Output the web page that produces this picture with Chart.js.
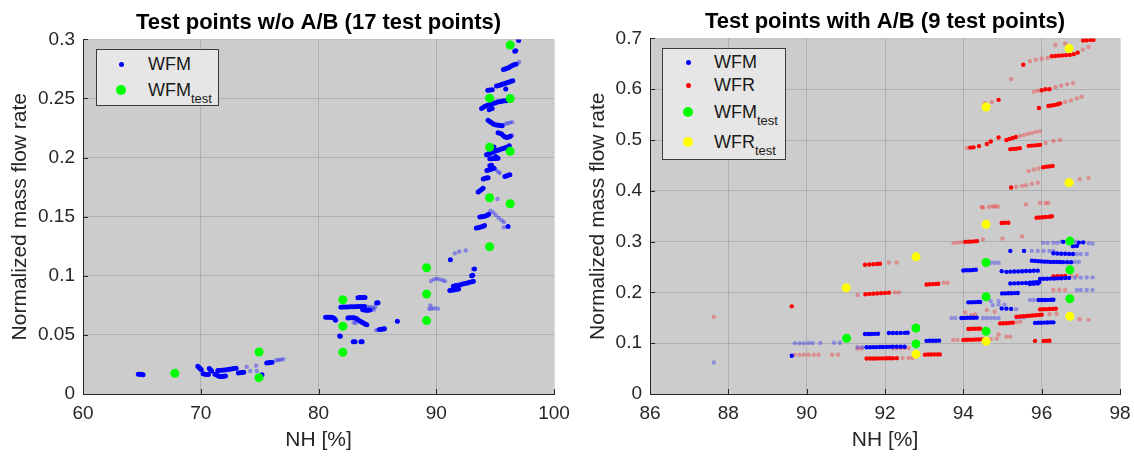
<!DOCTYPE html>
<html>
<head>
<meta charset="utf-8">
<script src="https://cdn.jsdelivr.net/npm/chart.js@4.4.1/dist/chart.umd.min.js"></script>
<style>
    body { margin: 0; background: #fff; font-family: 'Liberation Sans', Arial, sans-serif; }
    #wrap { position: relative; width: 1134px; height: 458px; background: #fff; overflow: hidden; }
    .panel { position: absolute; top: 0; height: 458px; }
    .legend { position: absolute; background: #e6e6e6; border: 1px solid #3a3a3a; box-sizing: border-box; }
    .row { position: absolute; left: 0; height: 24px; line-height: 24px; font-size: 18px; color: #1a1a1a; white-space: nowrap; }
    .row .dot { position: absolute; border-radius: 50%; }
    .row .txt { position: absolute; left: 51px; top: 0; }
    .row sub { font-size: 13px; vertical-align: -7px; line-height: 0; }
</style>
</head>
<body>
<div id="wrap">
    <div class="panel" style="left:0; width:575px">
        <canvas id="chart1" width="575" height="458"></canvas>
        <div class="legend" style="left:96px; top:49px; width:123px; height:57px;">
            <div class="row" style="top:2px"><span class="dot" style="left:22px; top:10px; width:5px; height:5px; background:#0000ff"></span><span class="txt">WFM</span></div>
            <div class="row" style="top:28px"><span class="dot" style="left:19px; top:7px; width:10px; height:10px; background:#00ff00"></span><span class="txt">WFM<sub>test</sub></span></div>
        </div>
    </div>
    <div class="panel" style="left:575px; width:559px">
        <canvas id="chart2" width="559" height="458"></canvas>
        <div class="legend" style="left:87px; top:48px; width:124px; height:112px;">
            <div class="row" style="top:1px"><span class="dot" style="left:23px; top:10px; width:5px; height:5px; background:#0000ff"></span><span class="txt">WFM</span></div>
            <div class="row" style="top:24px"><span class="dot" style="left:23px; top:10px; width:5px; height:5px; background:#ff0000"></span><span class="txt">WFR</span></div>
            <div class="row" style="top:51px"><span class="dot" style="left:20px; top:7px; width:10px; height:10px; background:#00ff00"></span><span class="txt">WFM<sub>test</sub></span></div>
            <div class="row" style="top:81px"><span class="dot" style="left:20px; top:7px; width:10px; height:10px; background:#ffff00"></span><span class="txt">WFR<sub>test</sub></span></div>
        </div>
    </div>
</div>
<script>
// ---- left chart: w/o A/B ----
const leftXTicks = [60, 70, 80, 90, 100];
const leftYTicks = [0, 0.05, 0.1, 0.15, 0.2, 0.25, 0.3];

const wfmTestL = [[67.8,0.0175],[74.95,0.0355],[74.95,0.0138],[82.07,0.0797],[82.07,0.0574],[82.07,0.0353],
    [89.18,0.1068],[89.18,0.0845],[89.18,0.0621],[94.53,0.2503],[94.53,0.2088],[94.53,0.166],[94.53,0.1246],
    [96.28,0.2952],[96.28,0.25],[96.28,0.2053],[96.28,0.161]];

const wfmSolidL = [
    [64.7,0.0168],[64.85,0.0167],[65.0,0.0165],[65.1,0.0163],
    [69.75,0.0235],[69.85,0.0225],[69.95,0.0215],[70.05,0.0205],
    [70.2,0.0172],[70.35,0.0168],[70.5,0.0166],[70.65,0.0164],
    [70.72,0.0215],[70.82,0.0205],[70.92,0.0195],
    [71.2,0.0168],[71.35,0.016],[71.5,0.0152],[71.65,0.0148],[71.8,0.0148],[71.95,0.015],[72.1,0.0152],
    [71.45,0.0198],[71.6,0.0199],[71.8,0.0201],[72.0,0.0203],[72.2,0.0206],[72.4,0.0209],[72.6,0.0212],[72.8,0.0215],[73.0,0.0218],
    [73.2,0.0178],[73.35,0.018],[73.5,0.0182],[73.65,0.0184],
    [75.2,0.0162],
    [75.6,0.0262],[75.75,0.0265],[75.9,0.0267],[76.05,0.0269],
    [83.35,0.0815],[83.5,0.0816],[83.65,0.0817],[83.8,0.0817],[83.95,0.0816],
    [81.9,0.0733],[82.1,0.0735],[82.3,0.0736],[82.5,0.0737],[82.7,0.0738],[82.9,0.0739],[83.1,0.0739],[83.3,0.074],[83.5,0.074],[83.7,0.074],[83.9,0.074],
    [83.75,0.0712],[83.9,0.071],[84.05,0.0709],[84.2,0.0708],[84.35,0.071],
    [84.93,0.077],[85.05,0.0772],
    [80.6,0.065],[80.75,0.065],[80.9,0.065],[81.05,0.0649],[81.2,0.0647],[81.35,0.0638],[81.45,0.0625],
    [82.5,0.0642],[82.65,0.0645],[82.8,0.0646],[82.95,0.0645],[83.1,0.0642],[83.25,0.0636],[83.4,0.0625],[83.55,0.0615],[83.7,0.0606],[83.85,0.0598],[84.0,0.059],[84.1,0.0586],
    [85.2,0.0545],[85.35,0.0548],[85.5,0.055],[85.6,0.0552],
    [86.7,0.0616],
    [81.8,0.049],[81.85,0.0488],
    [82.95,0.0442],[83.1,0.0442],[83.6,0.0443],[83.7,0.0443],
    [91.15,0.0875],[91.3,0.0878],[91.45,0.088],[91.6,0.0883],[91.75,0.0886],[91.9,0.0888],
    [91.45,0.0912],[91.65,0.0917],[91.85,0.092],[92.05,0.0925],[92.25,0.093],[92.45,0.0935],[92.65,0.094],[92.85,0.0945],[93.05,0.095],[93.15,0.0953],
    [93.0,0.1],[93.1,0.1005],[93.25,0.1058],[91.2,0.1136],
    [93.56,0.171],[93.7,0.172],[93.85,0.173],[93.98,0.174],
    [93.7,0.1497],[93.85,0.15],[94.0,0.1502],[94.15,0.1505],[94.3,0.151],[94.45,0.152],
    [93.4,0.1404],[93.55,0.1406],[93.7,0.141],[93.85,0.1415],[94.0,0.142],[94.1,0.1425],
    [96.1,0.1418],
    [93.99,0.182],[94.15,0.1825],[94.3,0.1828],[94.4,0.183],
    [95.83,0.184],[95.95,0.1845],[96.1,0.185],[96.25,0.1855],
    [94.3,0.189],[94.45,0.1895],[94.6,0.19],[94.75,0.1905],[94.9,0.191],[94.55,0.193],[94.7,0.1935],
    [94.55,0.199],[94.7,0.199],[94.85,0.1992],[95.0,0.1993],[95.15,0.1995],[95.25,0.1995],
    [94.27,0.2025],[94.4,0.203],[94.55,0.2035],[94.7,0.204],[94.85,0.205],[95.0,0.2055],[95.15,0.206],[95.3,0.2065],[95.45,0.207],[95.6,0.2075],[95.75,0.208],[95.9,0.2085],[96.05,0.209],[96.2,0.21],
    [94.9,0.209],[95.05,0.201],[94.6,0.207],
    [95.25,0.221],[95.4,0.2205],[95.55,0.22],[95.7,0.2185],[95.85,0.2175],[96.0,0.217],[96.15,0.2175],[96.3,0.218],
    [94.4,0.2315],[94.55,0.2305],[94.7,0.2295],[94.85,0.2285],[95.0,0.2278],[95.15,0.2275],[95.3,0.2273],[95.45,0.2272],[95.6,0.227],
    [93.85,0.2415],[94.0,0.2425],[94.15,0.2435],[94.3,0.244],[94.45,0.2445],[94.6,0.245],[94.75,0.2455],[94.9,0.246],[95.05,0.2465],[95.2,0.247],[95.35,0.2472],[95.5,0.2475],[95.65,0.2478],[95.8,0.248],[95.95,0.2482],
    [94.5,0.2405],[94.75,0.2415],
    [94.38,0.257],[94.55,0.2572],[94.75,0.2575],
    [95.12,0.2605],[95.3,0.261],[95.45,0.2615],[95.6,0.262],[95.75,0.2625],[95.9,0.263],[96.05,0.2635],[96.2,0.264],[96.35,0.2645],[96.5,0.265],[95.9,0.258],
    [95.7,0.2745],[95.85,0.275],[96.0,0.2755],[96.15,0.276],[96.3,0.277],[96.45,0.278],[96.6,0.2785],[96.75,0.279],
    [96.67,0.29],[96.75,0.2905],[97.0,0.299]
];

const wfmFaintL = [
    [73.9,0.023],[74.2,0.0195],[74.7,0.024],[74.75,0.0195],[76.4,0.0285],[76.6,0.0288],[76.8,0.029],[77.0,0.0295],
    [84.1,0.0738],[84.35,0.0737],[84.6,0.0735],[84.8,0.0733],[84.5,0.0712],[84.7,0.0713],
    [83.0,0.0605],[83.15,0.06],[84.9,0.054],[85.05,0.0543],
    [89.4,0.072],[89.6,0.0722],[89.85,0.0725],[90.15,0.0722],[89.5,0.075],
    [89.55,0.0955],[89.8,0.097],[90.05,0.0975],[90.3,0.097],[90.55,0.0962],[90.75,0.0955],
    [93.1,0.1057],[91.58,0.119],[91.95,0.1206],[92.5,0.1215],
    [94.6,0.155],[94.85,0.1535],[95.05,0.1515],[95.3,0.149],[95.55,0.147],[95.75,0.1455],
    [95.75,0.141],[95.2,0.165],[95.05,0.19],[95.25,0.188],[95.4,0.187],
    [96.45,0.219],[95.85,0.2285],[96.05,0.229],[96.25,0.2295],[96.45,0.23],
    [96.9,0.2795],[97.05,0.281]
];

// ---- right chart: with A/B ----
const rightXTicks = [86, 88, 90, 92, 94, 96, 98];
const rightYTicks = [0, 0.1, 0.2, 0.3, 0.4, 0.5, 0.6, 0.7];

const wfmTestR = [[91.02,0.1098],[92.79,0.13],[92.79,0.0986],[94.58,0.2588],[94.58,0.1914],[94.58,0.1235],
    [96.72,0.301],[96.72,0.2444],[96.72,0.1875]];
const wfrTestR = [[91.01,0.209],[92.79,0.27],[92.79,0.0784],[94.58,0.565],[94.58,0.334],[94.58,0.1039],
    [96.7,0.68],[96.7,0.416],[96.72,0.153]];

const wfmSolidR = [
    [89.62,0.0752],
    [91.53,0.092],[91.62,0.0921],[91.7,0.0922],[91.78,0.0923],[91.87,0.0925],[91.95,0.0926],[92.04,0.0927],[92.12,0.0928],[92.2,0.0929],[92.3,0.093],[92.4,0.093],[92.5,0.093],
    [91.49,0.118],[91.58,0.1181],[91.66,0.1182],[91.74,0.1184],[91.82,0.1186],
    [92.1,0.12],[92.2,0.1201],[92.3,0.1202],[92.4,0.1203],[92.5,0.1204],[92.58,0.1205],
    [93.06,0.1046],[93.14,0.1047],[93.22,0.1048],[93.3,0.1049],[93.38,0.105],
    [93.95,0.1497],[94.03,0.1498],[94.1,0.15],[94.18,0.1501],[94.26,0.1502],[94.34,0.1503],
    [94.13,0.1804],[94.21,0.1806],[94.29,0.1808],[94.37,0.181],[94.43,0.1812],
    [94.0,0.243],[94.08,0.2435],[94.16,0.2437],[94.24,0.244],[94.32,0.2445],
    [94.99,0.198],[95.07,0.198],[95.15,0.1982],[95.23,0.1984],[95.31,0.1986],[95.39,0.1988],
    [94.98,0.2418],[95.1,0.2405],[95.2,0.2408],[95.3,0.241],[95.4,0.2413],[95.5,0.2416],[95.6,0.242],[95.7,0.2422],[95.8,0.2425],[95.9,0.2428],
    [95.2,0.2176],[95.3,0.2178],[95.4,0.218],[95.5,0.2183],[95.6,0.2186],[95.7,0.219],[95.78,0.2195],[95.86,0.22],[95.94,0.2205],
    [95.7,0.2165],[95.8,0.217],[95.9,0.2175],
    [95.2,0.2817],[95.55,0.2817],
    [96.3,0.277],[96.4,0.2765],[96.5,0.276],[96.6,0.276],[96.7,0.2758],[96.8,0.2755],
    [95.75,0.2625],[95.83,0.262],[95.91,0.2615],[95.99,0.261],[96.07,0.2605],[96.15,0.2605],[96.23,0.26],[96.31,0.26],[96.39,0.26],[96.47,0.2598],[96.55,0.2596],[96.65,0.2595],[96.75,0.2595],
    [95.96,0.2265],[96.05,0.2268],[96.14,0.227],[96.23,0.2272],[96.32,0.2275],[96.41,0.2277],[96.5,0.228],[96.6,0.2282],[96.7,0.2285],
    [96.55,0.2995],[96.95,0.298],[97.06,0.2985],[96.8,0.291],[96.9,0.2915],
    [95.92,0.185],[96.0,0.185],[96.08,0.185],[96.16,0.1852],[96.24,0.1855],[96.3,0.1855],
    [95.83,0.14],[95.91,0.1402],[95.99,0.1404],[96.07,0.1406],[96.15,0.1408],[96.23,0.141],[96.3,0.141],
    [94.98,0.1685],[95.1,0.168],[95.22,0.1675]
];

const wfmFaintR = [
    [87.63,0.062],
    [89.7,0.1],[89.82,0.1],[89.93,0.1],[90.05,0.1005],[90.15,0.1005],[90.35,0.1005],[90.7,0.101],[90.85,0.101],
    [91.3,0.092],[91.42,0.092],
    [93.7,0.1497],[93.8,0.1497],[94.5,0.1497],[94.6,0.1497],[94.7,0.1497],[94.8,0.1497],[94.9,0.1497],
    [94.7,0.183],[94.9,0.183],[94.75,0.175],[94.9,0.176],[95.05,0.176],
    [94.7,0.2585],[94.8,0.2585],[94.9,0.2585],
    [95.75,0.2817],[95.9,0.2817],[96.05,0.2817],[96.2,0.2817],[96.3,0.2817],
    [96.9,0.2755],[97.0,0.2755],[97.15,0.2755],
    [96.85,0.26],[96.95,0.26],
    [96.85,0.229],[97.0,0.229],[97.15,0.2295],[97.3,0.2295],
    [96.5,0.3],[96.65,0.3],[96.85,0.3],[97.2,0.297],[97.3,0.296],
    [96.04,0.2975],[96.15,0.2975],[96.3,0.2975],[96.4,0.2975],
    [95.7,0.1852],[95.8,0.185],
    [95.36,0.1505],[95.45,0.151],[95.55,0.1512],[95.35,0.167],
    [96.9,0.2046],[97.0,0.2046],[97.15,0.2046],[97.3,0.205]
];

const wfrSolidR = [
    [89.62,0.1725],
    [91.53,0.0699],[91.62,0.07],[91.7,0.07],[91.78,0.07],[91.87,0.0701],[91.95,0.0702],[92.04,0.0703],[92.12,0.0704],[92.2,0.0705],[92.3,0.0706],
    [91.49,0.2545],[91.6,0.255],[91.7,0.2555],[91.8,0.256],[91.87,0.2565],
    [91.5,0.1965],[91.6,0.197],[91.7,0.1975],[91.8,0.198],[91.9,0.1985],[92.0,0.199],[92.1,0.1995],
    [93.06,0.2155],[93.14,0.216],[93.22,0.2163],[93.3,0.2167],[93.36,0.217],
    [93.02,0.0775],[93.1,0.0777],[93.18,0.0778],[93.26,0.078],[93.34,0.078],[93.4,0.078],
    [94.0,0.1065],[94.08,0.1068],[94.16,0.107],[94.24,0.107],[94.32,0.1072],[94.4,0.1074],[94.48,0.1076],[94.55,0.1078],
    [94.05,0.2995],[94.13,0.3],[94.2,0.3],[94.28,0.3005],[94.35,0.301],
    [94.13,0.1281],[94.21,0.1283],[94.29,0.1285],[94.37,0.1285],[94.43,0.1287],
    [94.98,0.3366],[95.06,0.337],[95.15,0.3372],
    [94.94,0.139],[95.02,0.1393],[95.1,0.1395],[95.18,0.14],[95.26,0.1405],
    [95.36,0.152],[95.45,0.1525],[95.53,0.153],[95.61,0.1535],[95.69,0.154],[95.77,0.1545],[95.85,0.155],[95.93,0.1555],[96.0,0.156],
    [95.96,0.1665],[96.04,0.1668],[96.12,0.167],[96.2,0.1672],[96.28,0.1675],[96.36,0.1678],
    [95.87,0.347],[95.95,0.3475],[96.03,0.348],[96.11,0.3485],[96.2,0.349],[96.26,0.35],
    [95.83,0.1045],[96.05,0.1045],[96.13,0.1046],[96.2,0.1047],
    [96.3,0.2315],[96.4,0.2318],[96.5,0.232],[96.6,0.2322],
    [97.06,0.696],[97.15,0.6965],[97.25,0.697],[97.32,0.697],
    [96.26,0.665],[96.35,0.6655],[96.44,0.666],[96.53,0.6665],[96.62,0.667],[96.72,0.6675],[96.82,0.669],[96.92,0.672],
    [95.53,0.648],
    [96.0,0.598],[96.1,0.6],[96.2,0.6],
    [94.9,0.579],
    [96.17,0.567],[96.25,0.568],[96.33,0.569],[96.41,0.5705],[96.47,0.572],
    [95.93,0.563],
    [94.18,0.485],[94.26,0.4855],[94.4,0.488],[94.6,0.492],[94.7,0.497],[94.9,0.505],
    [95.1,0.5],[95.18,0.502],[95.26,0.504],[95.34,0.506],
    [95.2,0.482],[95.28,0.4825],[95.36,0.483],[95.44,0.484],
    [95.67,0.4885],[95.75,0.489],[95.83,0.4895],[95.91,0.49],[95.96,0.4905],
    [96.04,0.4465],[96.12,0.4475],[96.2,0.448],[96.28,0.449],
    [95.22,0.4065]
];

const wfrFaintR = [
    [87.63,0.1516],
    [89.7,0.0771],[89.82,0.0771],[89.93,0.0772],[90.05,0.0773],[90.18,0.0773],[90.3,0.0774],[90.65,0.0775],[90.8,0.0776],
    [92.45,0.0707],[92.6,0.0708],[92.7,0.0709],
    [91.3,0.0895],[91.4,0.0897],[92.2,0.0902],[92.3,0.0905],[92.4,0.0905],[92.5,0.0905],[92.6,0.0905],
    [92.1,0.259],[92.3,0.259],[91.3,0.195],[92.25,0.2],[92.35,0.2],
    [93.5,0.219],[93.6,0.219],[92.85,0.0775],
    [93.74,0.1065],[93.85,0.1065],[94.7,0.108],[94.85,0.109],
    [93.75,0.297],[93.85,0.298],[93.95,0.2985],[94.5,0.304],
    [94.2,0.155],[94.3,0.157],[94.9,0.117],[95.1,0.113],[95.2,0.113],
    [94.05,0.1605],[94.6,0.1655],[94.8,0.162],
    [94.5,0.367],[94.75,0.369],[94.88,0.369],
    [95.35,0.141],[95.45,0.142],[96.2,0.157],[96.38,0.158],
    [96.75,0.2325],[96.9,0.233],[96.3,0.2046],[96.45,0.2046],[96.6,0.2046],
    [96.97,0.147],[97.2,0.146],
    [96.35,0.687],[96.6,0.69],[97.05,0.678],[97.2,0.683],
    [95.7,0.655],[95.85,0.658],[96.0,0.66],[96.15,0.662],[95.22,0.62],
    [95.8,0.595],[95.9,0.597],[96.35,0.604],[96.5,0.607],[96.65,0.61],[96.8,0.612],
    [94.73,0.575],[94.55,0.5725],
    [96.6,0.575],[96.75,0.578],[96.9,0.582],[97.02,0.585],
    [94.1,0.484],
    [95.45,0.508],[95.55,0.51],[95.65,0.512],[95.75,0.514],[95.85,0.516],[95.95,0.517],
    [96.1,0.494],[96.3,0.498],[96.47,0.5],
    [95.67,0.439],[95.8,0.442],[95.92,0.444],
    [95.35,0.408],[95.5,0.41],[95.6,0.411],[95.75,0.414],[95.9,0.416],
    [96.97,0.423],[97.2,0.425],
    [94.47,0.368],[94.65,0.368],[94.81,0.369],
    [95.6,0.373],[95.96,0.376],[96.1,0.376],[96.17,0.376],
    [95.0,0.306],[95.5,0.31]
];

const FONT = "'Liberation Sans', Arial, sans-serif";
const INK = '#262626';

function pts(arr) {
    return arr.map(p => ({ x: p[0], y: p[1] }));
}

function fmt(v) {
    return String(Number(v.toFixed(3)));
}

function dots(label, arr, color, r, order) {
    return {
        label: label,
        data: pts(arr),
        backgroundColor: color,
        borderWidth: 0,
        pointRadius: r,
        pointHoverRadius: r,
        order: order
    };
}

// gray axes background + inward MATLAB-style ticks
const axesPlugin = {
    id: 'axesBox',
    beforeDraw(chart) {
        const { ctx, chartArea: a } = chart;
        ctx.save();
        ctx.fillStyle = '#cccccc';
        ctx.fillRect(a.left, a.top, a.right - a.left, a.bottom - a.top);
        ctx.restore();
    },
    afterDatasetsDraw(chart) {
        const { ctx, chartArea: a, scales } = chart;
        ctx.save();
        ctx.strokeStyle = INK;
        ctx.lineWidth = 1;
        ctx.beginPath();
        scales.x.ticks.forEach(t => {
            const px = Math.round(scales.x.getPixelForValue(t.value)) + 0.5;
            ctx.moveTo(px, a.bottom);
            ctx.lineTo(px, a.bottom - 5);
        });
        scales.y.ticks.forEach(t => {
            const py = Math.round(scales.y.getPixelForValue(t.value)) + 0.5;
            ctx.moveTo(a.left, py);
            ctx.lineTo(a.left + 5, py);
        });
        ctx.stroke();
        ctx.restore();
    }
};

function makeChart(id, title, datasets, xTicks, yTicks, box) {
    const ctx = document.getElementById(id).getContext('2d');
    return new Chart(ctx, {
        type: 'scatter',
        data: { datasets: datasets },
        options: {
            responsive: false,
            animation: false,
            layout: { padding: { left: 0, right: box.right, top: 0, bottom: 0 } },
            plugins: {
                legend: { display: false },
                tooltip: { enabled: false },
                title: {
                    display: true,
                    text: title,
                    fullSize: false,
                    color: '#000',
                    font: { family: FONT, size: 22, weight: 'bold', lineHeight: 1.2 },
                    padding: { top: box.titleTop, bottom: 3 }
                }
            },
            scales: {
                x: {
                    type: 'linear',
                    min: xTicks[0],
                    max: xTicks[xTicks.length - 1],
                    afterBuildTicks: s => { s.ticks = xTicks.map(v => ({ value: v })); },
                    afterFit: s => { s.height = 64; s.paddingLeft = 0; s.paddingRight = 0; },
                    ticks: { color: INK, padding: 8, font: { family: FONT, size: 19 }, callback: v => fmt(v), maxRotation: 0 },
                    grid: { color: 'rgba(0,0,0,0.13)', drawTicks: false },
                    border: { display: true, color: INK, width: 1 },
                    title: { display: true, text: 'NH [%]', color: INK, font: { family: FONT, size: 21 }, padding: { top: 0, bottom: 5 } }
                },
                y: {
                    type: 'linear',
                    min: yTicks[0],
                    max: yTicks[yTicks.length - 1],
                    afterBuildTicks: s => { s.ticks = yTicks.map(v => ({ value: v })); },
                    afterFit: s => { s.width = box.axisW; s.paddingTop = 0; s.paddingBottom = 0; },
                    ticks: { color: INK, padding: 8, font: { family: FONT, size: 19 }, callback: v => fmt(v) },
                    grid: { color: 'rgba(0,0,0,0.13)', drawTicks: false },
                    border: { display: true, color: INK, width: 1 },
                    title: { display: true, text: 'Normalized mass flow rate', color: INK, font: { family: FONT, size: 21 }, padding: { top: box.yTitle, bottom: 0 } }
                }
            }
        },
        plugins: [axesPlugin]
    });
}

window.onload = () => {
    makeChart('chart1', 'Test points w/o A/B (17 test points)', [
        dots('WFMtest', wfmTestL, '#00ff00', 4.5, 0),
        dots('WFM', wfmSolidL, '#0000ff', 2.5, 1),
        dots('WFM faint', wfmFaintL, 'rgba(0,0,255,0.35)', 2.2, 2)
    ], leftXTicks, leftYTicks, { right: 21, axisW: 83, yTitle: 7.4, titleTop: 10 });

    makeChart('chart2', 'Test points with A/B (9 test points)', [
        dots('WFMtest', wfmTestR, '#00ff00', 4.5, 0),
        dots('WFRtest', wfrTestR, '#ffff00', 4.5, 0),
        dots('WFM', wfmSolidR, '#0000ff', 2.2, 1),
        dots('WFR', wfrSolidR, '#ff0000', 2.2, 2),
        dots('WFM faint', wfmFaintR, 'rgba(0,0,255,0.3)', 2.2, 3),
        dots('WFR faint', wfrFaintR, 'rgba(255,0,0,0.3)', 2.2, 4)
    ], rightXTicks, rightYTicks, { right: 14, axisW: 75, yTitle: 10.4, titleTop: 9 });
};
</script>
</body>
</html>
